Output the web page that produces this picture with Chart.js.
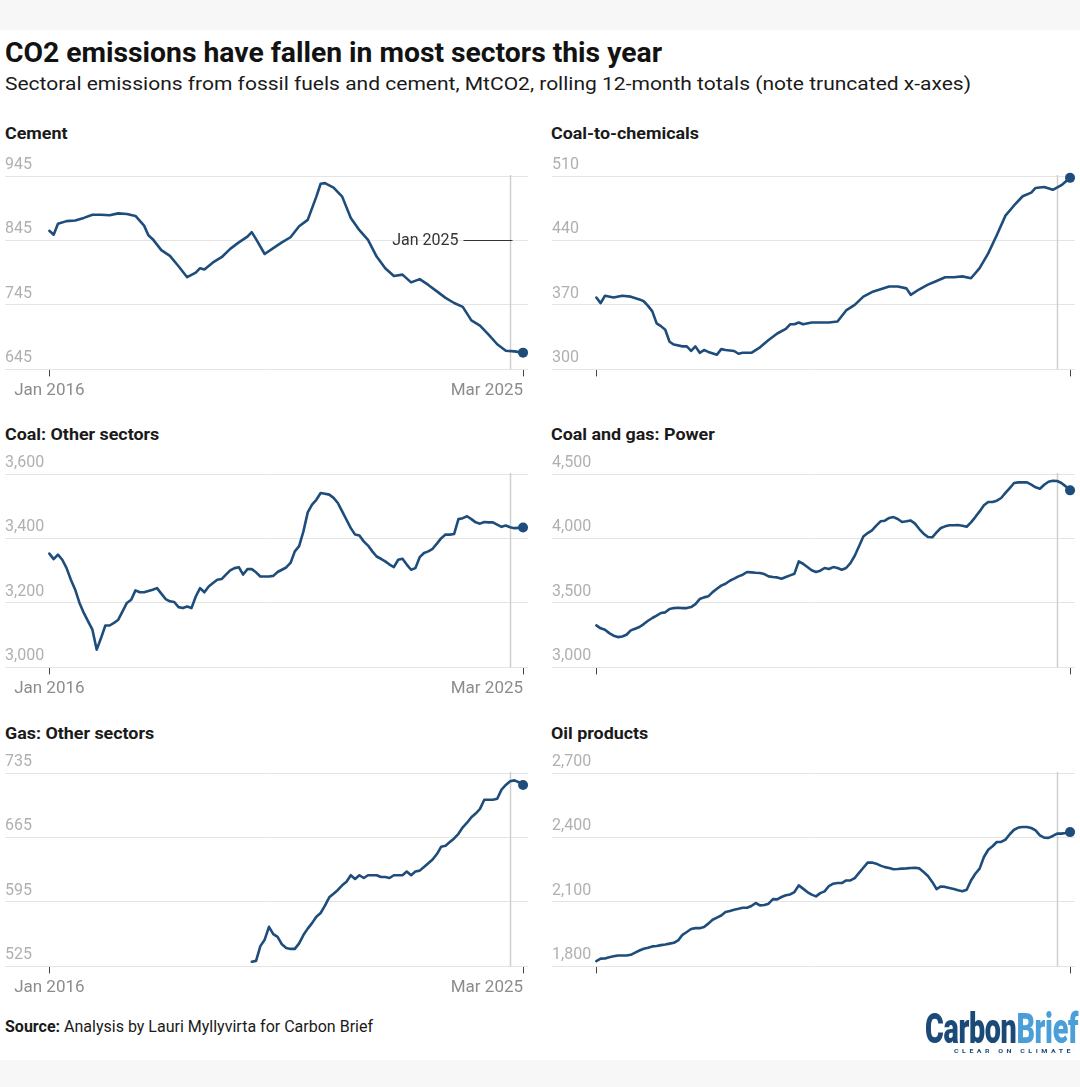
<!DOCTYPE html>
<html>
<head>
<meta charset="utf-8">
<script src="https://cdn.jsdelivr.net/npm/chart.js@4.4.1/dist/chart.umd.min.js"></script>
<style>
  html, body { margin: 0; padding: 0; }
  body { width: 1080px; height: 1087px; background: #f7f7f7; position: relative; overflow: hidden; font-family: Roboto, sans-serif; }
  #card { position: absolute; left: 0; top: 30px; width: 1080px; height: 1030px; background: #ffffff; }
  .t { position: absolute; white-space: nowrap; line-height: 1; transform-origin: 0 50%; }
  canvas { position: absolute; }
</style>
</head>
<body>
<div id="card"></div>
<div class="t" id="title" style="left:5px;top:39px;font-size:28px;font-weight:700;color:#121212;">CO2 emissions have fallen in most sectors this year</div>
<div class="t" id="subtitle" style="left:5px;top:75px;font-size:18px;font-weight:400;color:#1a1a1a;">Sectoral emissions from fossil fuels and cement, MtCO2, rolling 12-month totals (note truncated x-axes)</div>

<div class="t pt" id="pt1" style="left:5px;top:126px;font-size:16px;font-weight:700;color:#1a1a1a;">Cement</div>
<div class="t pt" id="pt2" style="left:551px;top:126px;font-size:16px;font-weight:700;color:#1a1a1a;">Coal-to-chemicals</div>
<div class="t pt" id="pt3" style="left:5px;top:427px;font-size:16px;font-weight:700;color:#1a1a1a;">Coal: Other sectors</div>
<div class="t pt" id="pt4" style="left:551px;top:427px;font-size:16px;font-weight:700;color:#1a1a1a;">Coal and gas: Power</div>
<div class="t pt" id="pt5" style="left:5px;top:726px;font-size:16px;font-weight:700;color:#1a1a1a;">Gas: Other sectors</div>
<div class="t pt" id="pt6" style="left:551px;top:726px;font-size:16px;font-weight:700;color:#1a1a1a;">Oil products</div>

<canvas id="c1" width="540" height="260" style="left:0px;top:152px;"></canvas>
<canvas id="c2" width="540" height="260" style="left:540px;top:152px;"></canvas>
<canvas id="c3" width="540" height="260" style="left:0px;top:450px;"></canvas>
<canvas id="c4" width="540" height="260" style="left:540px;top:450px;"></canvas>
<canvas id="c5" width="540" height="260" style="left:0px;top:749px;"></canvas>
<canvas id="c6" width="540" height="260" style="left:540px;top:749px;"></canvas>

<div class="t" id="source" style="left:5px;top:1019px;font-size:16px;color:#1a1a1a;"><b>Source:</b> Analysis by Lauri Myllyvirta for Carbon Brief</div>
<div class="t" id="logo" style="left:925px;top:1008px;font-size:42px;font-weight:900;letter-spacing:-0.5px;"><span style="color:#1b4a78;">Carbon</span><span style="color:#4b9fd9;">Brief</span></div>
<div class="t" id="tag" style="left:954px;top:1048px;font-size:6px;font-weight:700;letter-spacing:3px;color:#1b4a78;">CLEAR ON CLIMATE</div>

<script>
// ---------- DATA (month index: 0 = Jan 2016, 110 = Mar 2025) ----------
const xTickMonths = [0, 110];
const xTickLabels = ['Jan 2016', 'Mar 2025'];
const markMonth = 107;            // "Jan 2025" reference line
const markLabel = 'Jan 2025';

const cementMonths = [0,1,2,4,6,8,10,12,14,16,18,20,22,23,24,26,28,30,32,34,35,36,38,40,42,44,46,47,48,50,52,54,56,58,60,62,63,64,66,68,70,72,74,76,78,80,82,84,86,88,90,92,94,96,98,100,102,104,106,108,110];
const cementValues = [860,854,871,875,876,880,885,885,884,887,886,883,868,853,847,830,821,805,788,795,802,800,811,819,832,842,851,858,847,824,833,842,850,867,877,913,933,934,927,913,880,861,846,820,802,790,792,780,785,776,766,756,748,742,721,713,699,684,674,673,671];
const cementTicks = [645, 745, 845, 945];

const c2cMonths = [0,1,2,4,6,8,10,11,12,13,14,15,16,17,18,20,21,22,23,24,25,26,28,29,30,32,33,34,36,38,40,42,44,45,46,47,48,50,52,54,56,58,60,62,64,66,68,70,72,73,75,77,79,81,83,85,87,89,91,93,95,97,99,101,102,104,106,108,110];
const c2cValues = [378,372,380,378,380,379,376,374,369,363,350,347,343,330,327,325,325,320,325,318,321,319,316,322,321,320,317,318,318,324,332,339,344,349,349,351,349,351,351,351,352,364,370,379,384,387,390,390,388,381,387,392,396,400,400,401,399,410,426,446,467,478,488,492,497,498,495,500,508];
const c2cTicks = [300, 370, 440, 510];

const coalOtherValues = [3353,3336,3350,3334,3308,3272,3241,3200,3169,3143,3117,3055,3091,3130,3130,3138,3148,3174,3200,3210,3239,3233,3233,3237,3241,3246,3229,3212,3205,3203,3187,3184,3189,3184,3220,3246,3233,3251,3262,3272,3274,3288,3301,3308,3311,3288,3305,3305,3295,3282,3282,3282,3284,3296,3303,3310,3324,3360,3376,3422,3481,3505,3520,3541,3539,3536,3526,3510,3484,3458,3432,3412,3409,3391,3378,3360,3344,3337,3329,3319,3311,3334,3337,3319,3303,3308,3342,3355,3360,3368,3384,3401,3412,3412,3414,3460,3463,3469,3460,3450,3446,3451,3450,3450,3443,3436,3440,3435,3432,3433,3434];
const coalOtherTicks = [3000, 3200, 3400, 3600];

const powerValues = [3326,3303,3292,3266,3246,3235,3240,3253,3287,3300,3313,3336,3362,3383,3401,3422,3427,3453,3460,3463,3460,3460,3468,3491,3530,3543,3551,3584,3610,3634,3649,3672,3688,3706,3719,3740,3737,3734,3732,3724,3706,3701,3698,3688,3701,3714,3727,3822,3804,3778,3753,3740,3750,3771,3763,3778,3771,3758,3771,3809,3866,3939,4016,4042,4063,4099,4133,4138,4159,4166,4151,4128,4133,4140,4115,4073,4037,4011,4009,4047,4081,4094,4102,4102,4104,4099,4091,4125,4166,4210,4257,4283,4283,4293,4314,4353,4391,4430,4435,4435,4435,4417,4397,4386,4417,4440,4448,4446,4430,4404,4373];
const powerTicks = [3000, 3500, 4000, 4500];

const gasFirstMonth = 47;
const gasValues = [530,531,547,554,568,560,557,549,545,544,544,550,559,566,572,579,583,591,600,604,608,613,617,624,620,624,621,624,624,624,622,622,621,624,624,624,628,624,628,629,633,637,641,647,655,656,660,664,669,676,681,687,691,696,706,706,706,707,717,722,726,727,725,722];
const gasTicks = [525, 595, 665, 735];

const oilValues = [1825,1836,1837,1843,1847,1851,1851,1851,1854,1864,1874,1882,1887,1893,1895,1899,1902,1906,1910,1921,1947,1960,1974,1978,1978,1983,1999,2017,2027,2037,2053,2058,2064,2068,2073,2073,2081,2095,2084,2086,2092,2113,2112,2123,2131,2135,2146,2177,2162,2146,2134,2126,2141,2149,2174,2185,2188,2188,2200,2200,2211,2235,2259,2283,2283,2278,2269,2262,2258,2252,2253,2255,2256,2258,2259,2256,2239,2221,2193,2160,2172,2170,2165,2160,2154,2150,2157,2200,2231,2255,2309,2343,2359,2379,2379,2390,2415,2436,2446,2449,2449,2444,2433,2410,2399,2398,2407,2418,2418,2421,2425];
const oilTicks = [1800, 2100, 2400, 2700];

const allMonths = coalOtherValues.map((_, i) => i);
const gasMonths = gasValues.map((_, i) => gasFirstMonth + i);

// ---------- STYLE ----------
const LINE = '#1e4d7b';
const X_MIN = -10.3, X_MAX = 111.15;

const panelDecor = {
  id: 'panelDecor',
  beforeDatasetsDraw(chart, args, o) {
    const { ctx, chartArea, scales } = chart;
    const px = Math.round(scales.x.getPixelForValue(markMonth)) + 0.5;
    ctx.save();
    ctx.strokeStyle = '#cfcfcf';
    ctx.lineWidth = 1.5;
    ctx.beginPath();
    ctx.moveTo(px, chartArea.top - 1);
    ctx.lineTo(px, chartArea.bottom);
    ctx.stroke();
    if (o.annotate) {
      const y = Math.round(scales.y.getPixelForValue(o.annotateAt)) + 0.5;
      ctx.strokeStyle = '#333';
      ctx.lineWidth = 1;
      ctx.beginPath();
      ctx.moveTo(px - 47, y);
      ctx.lineTo(px + 2, y);
      ctx.stroke();
      ctx.fillStyle = '#333';
      ctx.font = '16px Roboto';
      ctx.textAlign = 'right';
      ctx.textBaseline = 'middle';
      ctx.fillText(markLabel, px - 52, y);
    }
    ctx.restore();
  },
  afterDraw(chart, args, o) {
    if (!o.xLabels) return;
    const { ctx, chartArea, scales } = chart;
    ctx.save();
    ctx.fillStyle = '#8c8c8c';
    ctx.font = '17px Roboto';
    ctx.textBaseline = 'middle';
    const y = chartArea.bottom + 21;
    ctx.textAlign = 'center';
    ctx.fillText(xTickLabels[0], scales.x.getPixelForValue(xTickMonths[0]), y);
    ctx.textAlign = 'right';
    ctx.fillText(xTickLabels[1], scales.x.getPixelForValue(xTickMonths[1]), y);
    ctx.restore();
  }
};

function buildPanel(id, months, values, ticks, side, deco) {
  const last = values.length - 1;
  return new Chart(document.getElementById(id), {
    type: 'line',
    data: {
      datasets: [{
        data: months.map((m, i) => ({ x: m, y: values[i] })),
        borderColor: LINE,
        borderWidth: 2.6,
        borderJoinStyle: 'round',
        borderCapStyle: 'round',
        tension: 0,
        pointRadius: c => (c.dataIndex === last ? 5 : 0),
        pointHoverRadius: 0,
        pointBackgroundColor: LINE,
        pointBorderWidth: 0,
        clip: false
      }]
    },
    options: {
      responsive: false,
      animation: false,
      events: [],
      layout: { padding: { left: side === 'L' ? 3 : 12, right: side === 'L' ? 12 : 3, top: 24, bottom: 35.6 } },
      plugins: { legend: { display: false }, tooltip: { enabled: false }, panelDecor: deco },
      scales: {
        x: {
          type: 'linear', min: X_MIN, max: X_MAX,
          afterBuildTicks: s => { s.ticks = xTickMonths.map(v => ({ value: v })); },
          grid: { display: true, drawOnChartArea: false, drawTicks: true, tickLength: 7, tickColor: '#444', tickWidth: 1 },
          border: { display: false },
          ticks: { display: false }
        },
        y: {
          type: 'linear', min: ticks[0], max: ticks[ticks.length - 1],
          afterBuildTicks: s => { s.ticks = ticks.map(v => ({ value: v })); },
          grid: { color: '#e4e4e4', lineWidth: 1, drawTicks: false },
          border: { display: false },
          ticks: {
            mirror: true, padding: 0, labelOffset: -11,
            color: '#b0b0b0', font: { family: 'Roboto', size: 16 },
            callback: v => Number(v).toLocaleString('en-US')
          }
        }
      }
    },
    plugins: [panelDecor]
  });
}

function fitWidth(id, target) {
  const el = document.getElementById(id);
  const w = el.getBoundingClientRect().width;
  el.style.transform = 'scaleX(' + (target / w) + ')';
  return target / w;
}

function start() {
  fitWidth('title', 657);
  fitWidth('subtitle', 966);
  fitWidth('source', 368);
  fitWidth('logo', 153);
  fitWidth('tag', 120);
  const k = fitWidth('pt2', 148);
  ['pt1', 'pt3', 'pt4', 'pt5', 'pt6'].forEach(id => {
    document.getElementById(id).style.transform = 'scaleX(' + k + ')';
  });

  buildPanel('c1', cementMonths, cementValues, cementTicks, 'L', { xLabels: true, annotate: true, annotateAt: 845 });
  buildPanel('c2', c2cMonths, c2cValues, c2cTicks, 'R', { xLabels: false });
  buildPanel('c3', allMonths, coalOtherValues, coalOtherTicks, 'L', { xLabels: true });
  buildPanel('c4', allMonths, powerValues, powerTicks, 'R', { xLabels: false });
  buildPanel('c5', gasMonths, gasValues, gasTicks, 'L', { xLabels: true });
  buildPanel('c6', allMonths, oilValues, oilTicks, 'R', { xLabels: false });
}

if (document.fonts && document.fonts.ready) {
  document.fonts.ready.then(start);
} else {
  start();
}
</script>
</body>
</html>
